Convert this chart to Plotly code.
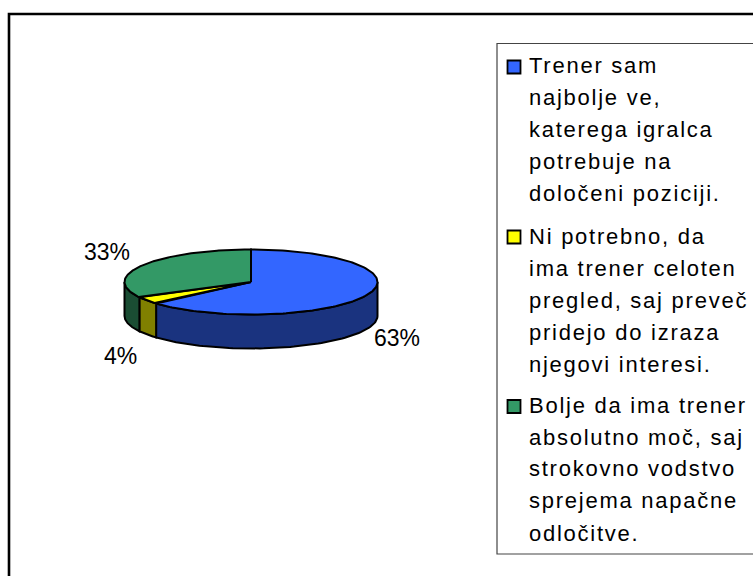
import numpy as np
import plotly.graph_objects as go

values = [63.5, 3.7, 32.8]
percent_labels = ["63%", "4%", "33%"]
top_colors = ["#3366FF", "#FFFF00", "#339966"]
side_colors = ["#1A337F", "#808000", "#1A4D33"]
legend_lines = [
    ["Trener sam", "najbolje ve,", "katerega igralca", "potrebuje na", "določeni poziciji."],
    ["Ni potrebno, da", "ima trener celoten", "pregled, saj preveč", "pridejo do izraza", "njegovi interesi."],
    ["Bolje da ima trener", "absolutno moč, saj", "strokovno vodstvo", "sprejema napačne", "odločitve."],
]
FONT = "Liberation Sans, Arial, sans-serif"
W, H = 753, 576
CX, CY, RX, RY, DEPTH = 251, 282, 126.5, 32.5, 34


def rim(a0, a1, dy=0.0, n=80):
    t = np.radians(np.linspace(a0, a1, n))
    return CX + RX * np.sin(t), CY - RY * np.cos(t) + dy


fig = go.Figure()
fracs = np.cumsum([0] + values) / sum(values) * 360
line = dict(color="black", width=2)

# side walls (only the front half of the rim is visible)
for i in range(3):
    a0, a1 = max(fracs[i], 90), min(fracs[i + 1], 270)
    if a0 >= a1:
        continue
    xt, yt = rim(a0, a1)
    xb, yb = rim(a1, a0, DEPTH)
    fig.add_trace(go.Scatter(
        x=np.r_[xt, xb, xt[0]], y=np.r_[yt, yb, yt[0]], mode="lines",
        fill="toself", fillcolor=side_colors[i], line=line, showlegend=False, hoverinfo="skip"))

# top faces
for i in range(3):
    x, y = rim(fracs[i], fracs[i + 1], n=160)
    fig.add_trace(go.Scatter(
        x=np.r_[CX, x, CX], y=np.r_[CY, y, CY], mode="lines",
        fill="toself", fillcolor=top_colors[i], line=line,
        name=percent_labels[i], showlegend=False, hoverinfo="skip"))

# percent labels
label_pos = [(397, 338), (120, 356), (107, 252)]
for txt, (x, y) in zip(percent_labels, label_pos):
    fig.add_annotation(x=x, y=y, text=txt, showarrow=False, xanchor="center", yanchor="middle",
                       font=dict(family=FONT, size=23, color="black"))

# legend
line_y = [[65, 97, 129, 161, 193], [236, 268, 300, 332, 364], [405, 437, 468, 500, 533]]
swatch_y = [67, 237, 406.5]
for i, lines in enumerate(legend_lines):
    fig.add_trace(go.Scatter(
        x=[514], y=[swatch_y[i]], mode="markers", showlegend=False, hoverinfo="skip",
        marker=dict(symbol="square", size=13, color=top_colors[i], line=dict(color="black", width=1.8))))
    for t, y in zip(lines, line_y[i]):
        fig.add_annotation(x=527, y=y, text=t, showarrow=False, xanchor="left", yanchor="middle",
                           font=dict(family=FONT, size=22, color="black"))

fig.add_shape(type="rect", x0=9, y0=14, x1=770, y1=590, line=dict(color="black", width=2.6), layer="below")
fig.add_shape(type="rect", x0=497, y0=43.5, x1=770, y1=554, line=dict(color="#444444", width=1.2), layer="below")

fig.update_layout(
    width=W, height=H, margin=dict(l=0, r=0, t=0, b=0),
    paper_bgcolor="white", plot_bgcolor="white", showlegend=False,
    xaxis=dict(range=[0, W], visible=False, fixedrange=True),
    yaxis=dict(range=[H, 0], visible=False, fixedrange=True),
)
post = """
document.body.style.margin='0';document.body.style.overflow='hidden';
document.querySelectorAll('.annotation-text').forEach(function(el){
  if(el.textContent.indexOf('%')>=0) return;
  var w0=el.getComputedTextLength();
  el.style.letterSpacing='1.75px';
  var w1=el.getComputedTextLength();
  var x=parseFloat(el.getAttribute('x')||'0');
  el.setAttribute('x', x+(w1-w0)/2);
});
"""
fig.write_html("out.html", config={"displayModeBar": False}, post_script=post)
